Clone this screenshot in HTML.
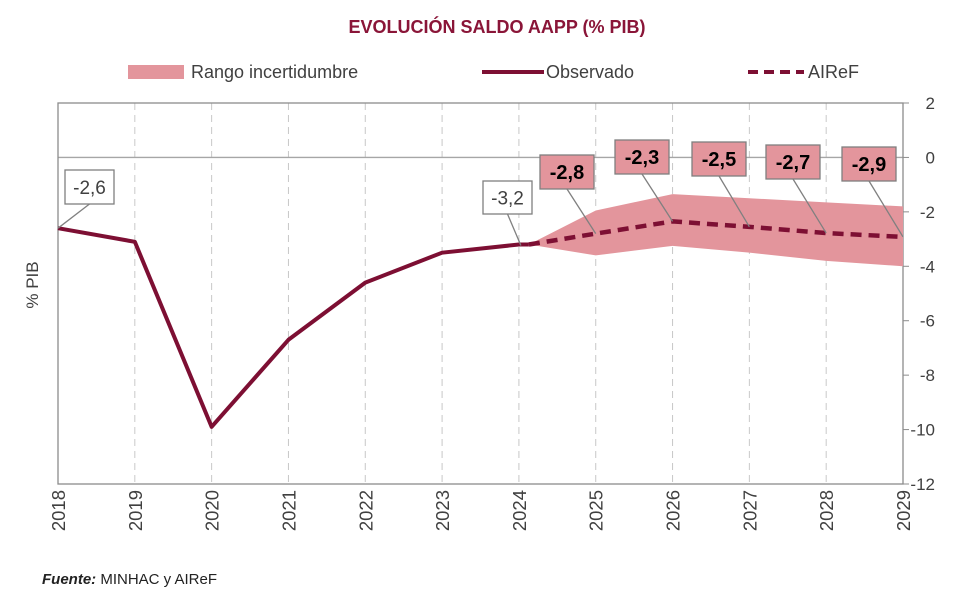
<!DOCTYPE html>
<html><head><meta charset="utf-8"><style>
body{margin:0;background:#fff;width:975px;height:597px;overflow:hidden;font-family:"Liberation Sans",sans-serif}
svg text{font-family:"Liberation Sans",sans-serif}
</style></head><body>
<svg id="c" width="975" height="597">
<text x="497" y="33" text-anchor="middle" font-size="18" font-weight="bold" fill="#8a1538">EVOLUCIÓN SALDO AAPP (% PIB)</text>
<g>
<rect x="128" y="65" width="56" height="14" fill="#e3959c"/>
<text x="191" y="78" font-size="18" fill="#404040">Rango incertidumbre</text>
<line x1="482" y1="72" x2="544" y2="72" stroke="#7d0f33" stroke-width="4"/>
<text x="546" y="78" font-size="18" fill="#404040">Observado</text>
<line x1="748" y1="72" x2="804" y2="72" stroke="#7d0f33" stroke-width="4" stroke-dasharray="10,6"/>
<text x="808" y="78" font-size="18" fill="#404040">AIReF</text>
</g>
<text transform="translate(38,285) rotate(-90)" text-anchor="middle" font-size="17" fill="#404040">% PIB</text>
<text x="42" y="584" font-size="15" fill="#222"><tspan font-weight="bold" font-style="italic">Fuente:</tspan> MINHAC y AIReF</text>
</svg>
<script>
const years=[2018,2019,2020,2021,2022,2023,2024,2025,2026,2027,2028,2029];
const yTicks=[2,0,-2,-4,-6,-8,-10,-12];
const yTickLabels=["2","0","-2","-4","-6","-8","-10","-12"];
const obsYears=[2018,2019,2020,2021,2022,2023,2024];
const obsValues=[-2.6,-3.1,-9.9,-6.7,-4.6,-3.5,-3.2];
const fcYears=[2024.13,2025,2026,2027,2028,2029];
const fcValues=[-3.2,-2.8,-2.35,-2.55,-2.78,-2.92];
const bandUpper=[-3.2,-1.95,-1.35,-1.5,-1.65,-1.8];
const bandLower=[-3.2,-3.6,-3.25,-3.5,-3.8,-4.0];
const fcLabels=["-2,8","-2,3","-2,5","-2,7","-2,9"];
const NS="http://www.w3.org/2000/svg";
const svg=document.getElementById('c');
const X0=58,X1=903,YT=103,YB=484;
const x=v=>X0+(v-2018)*(X1-X0)/11;
const y=v=>YT+(2-v)*(YB-YT)/14;
function el(t,a,p){const e=document.createElementNS(NS,t);for(const k in a)e.setAttribute(k,a[k]);(p||svg).appendChild(e);return e;}
const grid=el('g',{});


years.forEach((yr,i)=>{if(i>0&&i<years.length-1){const l=el('line',{x1:x(yr),x2:x(yr),y1:YT,y2:YB,stroke:'#c8c8c8','stroke-dasharray':'7,5'},grid);

}});
const zl=el('line',{x1:X0,x2:X1,y1:y(0),y2:y(0),stroke:'#a6a6a6','stroke-width':1.3});


const frame=el('rect',{x:X0,y:YT,width:X1-X0,height:YB-YT,fill:'none',stroke:'#8c8c8c','stroke-width':1.3});


yTicks.forEach((t,i)=>{const tx=el('text',{x:935,y:y(t)+6,'text-anchor':'end','font-size':17,fill:'#404040'});tx.textContent=yTickLabels[i];


const tk=el('line',{x1:X1,x2:X1+6,y1:y(t),y2:y(t),stroke:'#8c8c8c'});

});
years.forEach(yr=>{const tx=el('text',{transform:`translate(${x(yr)+7},${YB+6}) rotate(-90)`,'text-anchor':'end','font-size':18.5,fill:'#404040'});tx.textContent=yr;

});
let bp=fcYears.map((yr,i)=>x(yr)+','+y(bandUpper[i])).join(' ')+' '+fcYears.map((yr,i)=>x(yr)+','+y(bandLower[i])).reverse().join(' ');
const band=el('polygon',{points:bp,fill:'#e3959c'});


const obs=el('polyline',{points:obsYears.map((yr,i)=>x(yr)+','+y(obsValues[i])).join(' ')+' '+x(fcYears[0])+','+y(fcValues[0]),fill:'none',stroke:'#7d0f33','stroke-width':4,'stroke-linejoin':'round'});


const fc=el('polyline',{points:fcYears.map((yr,i)=>x(yr)+','+y(fcValues[i])).join(' '),fill:'none',stroke:'#7d0f33','stroke-width':4.5,'stroke-dasharray':'11,7'});


function label(txt,px,py,bx,by,w,h,pink){
const g=el('g',{});


el('line',{x1:bx+w/2,y1:by+h,x2:px,y2:py,stroke:'#808080','stroke-width':1.3},g);
el('rect',{x:bx,y:by,width:w,height:h,fill:pink?'#e3959c':'#fff',stroke:'#7f7f7f','stroke-width':1.3},g);
const t=el('text',{x:bx+w/2,y:by+h/2+7,'text-anchor':'middle','font-size':pink?20:19,'font-weight':pink?'bold':'normal',fill:pink?'#000':'#404040'},g);t.textContent=txt;}
label('-2,6',x(2018),y(obsValues[0]),65,170,49,34,false);
label('-3,2',x(2024.13)-8,y(fcValues[0])+1,483,181,49,33,false);
const boxes=[[540,155],[615,140],[692,142],[766,145],[842,147]];
fcLabels.forEach((t,i)=>label(t,x(fcYears[i+1]),y(fcValues[i+1]),boxes[i][0],boxes[i][1],54,34,true));
</script>
</body></html>
